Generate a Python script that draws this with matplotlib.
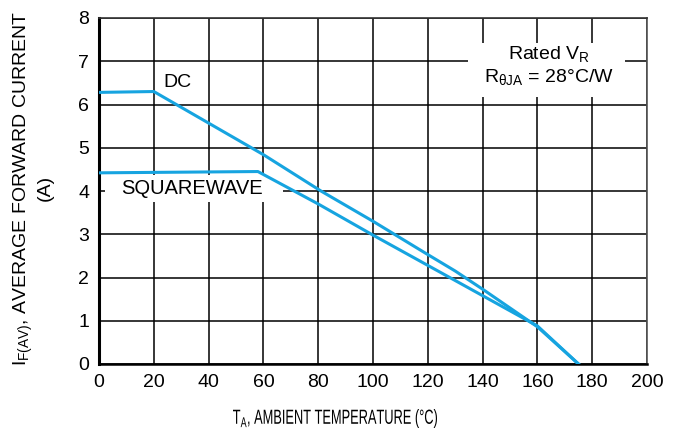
import matplotlib
matplotlib.use("Agg")
import matplotlib.pyplot as plt
from matplotlib.textpath import TextPath
from matplotlib.patches import PathPatch, Rectangle
from matplotlib.font_manager import FontProperties
from matplotlib.transforms import Affine2D

# Data
dc_temp = [0, 20, 60, 81, 100, 120, 130, 140, 160, 175]
dc_current = [6.28, 6.30, 4.84, 4.0, 3.30, 2.53, 2.15, 1.73, 0.86, 0.0]
sw_temp = [0, 58, 80, 100, 120, 140, 160, 175]
sw_current = [4.42, 4.45, 3.70, 2.98, 2.28, 1.58, 0.88, 0.0]

x_ticks = [0, 20, 40, 60, 80, 100, 120, 140, 160, 180, 200]
y_ticks = [0, 1, 2, 3, 4, 5, 6, 7, 8]

plt.rcParams['font.family'] = ['Liberation Sans', 'DejaVu Sans']
blue = '#16a4e0'

W, H = 678, 430
fig = plt.figure(figsize=(W/100, H/100), dpi=100)
ax = fig.add_axes([99/W, 1-364/H, (647-99)/W, (364-18)/H])

ax.set_xlim(0, 200)
ax.set_ylim(0, 8)
ax.set_xticks(x_ticks)
ax.set_yticks(y_ticks)
ax.tick_params(length=0, labelsize=14, pad=7)
ax.grid(True, color='black', linewidth=1.1)
ax.set_axisbelow(True)

ax.spines['left'].set_linewidth(2.2)
ax.spines['bottom'].set_linewidth(1.8)
ax.spines['top'].set_linewidth(1.2)
ax.spines['top'].set_color('#333333')
ax.spines['right'].set_linewidth(1.2)
ax.spines['right'].set_color('#555555')

ax.plot(dc_temp, dc_current, color=blue, linewidth=2.2, solid_joinstyle='round', zorder=3)
ax.plot(sw_temp, sw_current, color=blue, linewidth=2.2, solid_joinstyle='round', zorder=3)

# white masks behind labels
ax.add_patch(Rectangle((2.2, 3.75), 64.8, 0.63, facecolor='white', edgecolor='none', zorder=2))
ax.add_patch(Rectangle((134.7, 6.17), 57.3, 1.25, facecolor='white', edgecolor='none', zorder=2))

ax.text(28.5, 6.52, 'DC', fontsize=14, ha='center', va='center', zorder=4)
ax.text(34, 4.05, 'SQUAREWAVE', fontsize=14.5, ha='center', va='center', zorder=4)
ax.text(164.2, 6.88, 'Rated V$_{\\mathregular{R}}$\nR$_{\\mathregular{\\theta JA}}$ = 28°C/W',
        fontsize=14, ha='center', va='center', linespacing=1.2, zorder=4)


def scaled_text(s, cx, bottom_y, width, height):
    tp = TextPath((0, 0), s, size=20, prop=FontProperties(family='Liberation Sans'))
    ext = tp.get_extents()
    sx = width / ext.width
    sy = height / ext.height
    tr = (Affine2D().translate(-(ext.x0 + ext.width / 2), -ext.y0)
          .scale(sx, sy).translate(cx, bottom_y))
    fig.add_artist(PathPatch(tp, transform=tr, facecolor='black', edgecolor='none'))


scaled_text('T$_{\\mathregular{A}}$, AMBIENT TEMPERATURE (°C)', 335, H - 428, 204, 19)

fig.text(33/W, 1-188/H, 'I$_{\\mathregular{F(AV)}}$, AVERAGE FORWARD CURRENT\n(A)',
         fontsize=14, ha='center', va='center', rotation=90, linespacing=1.15)

fig.savefig('out.png', dpi=100)
